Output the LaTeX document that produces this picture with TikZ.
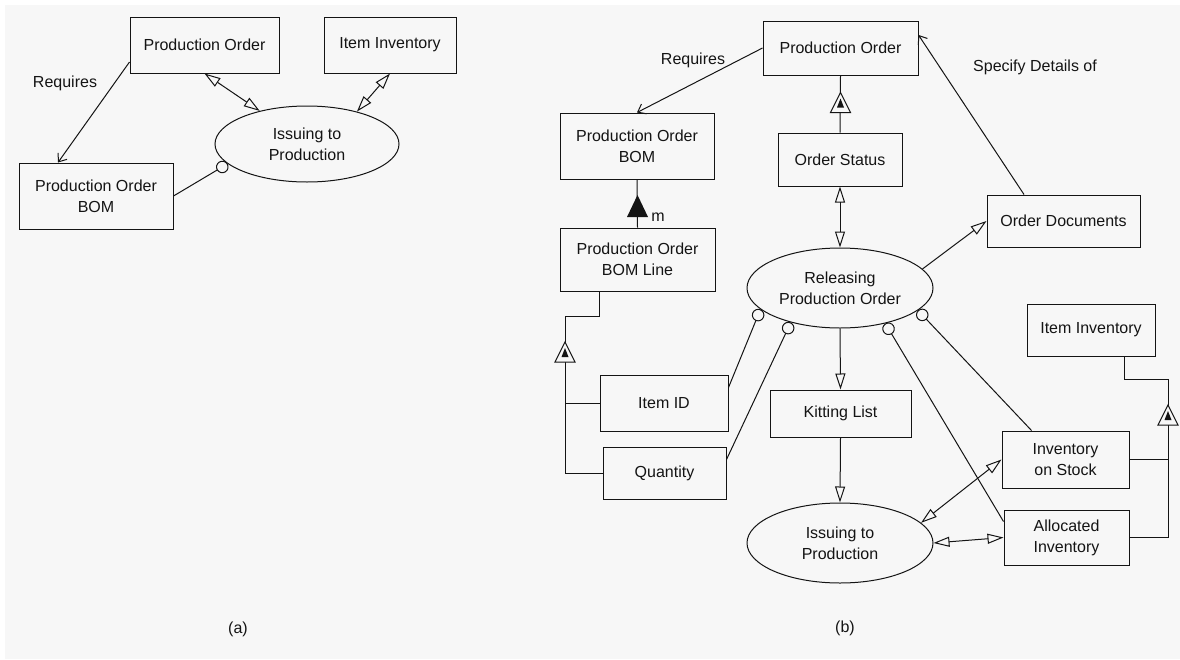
\documentclass[tikz,border=0pt]{standalone}
\usepackage{fontspec}
\setmainfont{Liberation Sans}
\usetikzlibrary{arrows.meta,shapes.geometric}
\definecolor{bg}{RGB}{247,247,247}
\definecolor{ink}{RGB}{20,20,20}
\tikzset{
  gen/.pic={
    \draw[fill=bg, line width=1pt] (0,-10) -- (10,10) -- (-10,10) -- cycle;
    \fill (0,-4) -- (3.5,5) -- (-3.5,5) -- cycle;
  },
  whole/.pic={
    \fill (0,-11) -- (10.5,11) -- (-10.5,11) -- cycle;
  }
}
\begin{document}
\begin{tikzpicture}[x=1pt, y=-1pt, line width=1pt, draw=ink, ink,
  every node/.style={font=\fontsize{16}{21}\selectfont, text=ink},
  box/.style={draw, fill=bg, inner sep=0pt, align=center},
  proc/.style={draw, fill=bg, ellipse, inner sep=0pt, align=center},
  twoway/.style={{Triangle[open,length=16pt,width=10pt]}-{Triangle[open,length=16pt,width=10pt]}},
  onearrow/.style={-{Triangle[open,length=16pt,width=10pt]}},
  assoc/.style={-{Straight Barb[length=7pt,width=11pt]}},
  attrlink/.style={-{Circle[open,length=12.5pt,width=12.5pt]}}]
\useasboundingbox (0,0) rectangle (1180,659);
\fill[white] (0,0) rectangle (1180,659);
\fill[bg] (5,5) rectangle (1180,659);

% ---------- (a) ----------
\node[box, minimum width=149pt, minimum height=56pt] (po1) at (204.5,45) {Production Order};
\node[box, minimum width=132pt, minimum height=56pt] (ii1) at (390,45) {Item Inventory};
\node[box, minimum width=154pt, minimum height=66pt] (bom1) at (96,196) {Production Order\\BOM};
\node[proc, minimum width=184pt, minimum height=76pt] (ell1) at (307,144) {Issuing to\\Production};

\draw[assoc] ([yshift=-17pt]po1.west) -- ([xshift=-38pt]bom1.north);
\node at (65,83) {Requires};
\draw[twoway] (po1.south) -- (ell1.145.8);
\draw[twoway] (ii1.south) -- (ell1.33.4);
\draw[attrlink] (bom1.east) -- (ell1.194.7);
\node at (238,629) {(a)};

% ---------- (b) ----------
\node[box, minimum width=155pt, minimum height=54pt] (po2) at (840.5,48) {Production Order};
\node[box, minimum width=154pt, minimum height=66pt] (bom2) at (637,146) {Production Order\\BOM};
\node[box, minimum width=124pt, minimum height=53pt] (ostat) at (840,159.5) {Order Status};
\node[box, minimum width=155pt, minimum height=63pt] (bomline) at (637.5,259.5) {Production Order\\BOM Line};
\node[box, minimum width=153pt, minimum height=52pt] (odoc) at (1063.5,221) {Order Documents};
\node[proc, minimum width=186pt, minimum height=80pt] (rel) at (840,288) {Releasing\\Production Order};
\node[box, minimum width=128pt, minimum height=52pt] (iinv2) at (1091,330) {Item Inventory};
\node[box, minimum width=128pt, minimum height=56pt] (itemid) at (664,403) {Item ID};
\node[box, minimum width=141pt, minimum height=47pt] (kit) at (840.5,413.5) {Kitting List};
\node[box, minimum width=123pt, minimum height=52pt] (quantity) at (664.5,473) {Quantity};
\node[box, minimum width=127pt, minimum height=57pt] (invstock) at (1065.5,459.5) {Inventory\\on Stock};
\node[box, minimum width=125pt, minimum height=55pt] (alloc) at (1066.5,537.5) {Allocated\\Inventory};
\node[proc, minimum width=186pt, minimum height=80pt] (iss2) at (840,543) {Issuing to\\Production};

% associations
\draw[assoc] (po2.west) -- (bom2.north);
\node at (693,60) {Requires};
\draw[assoc] ([xshift=-39.5pt]odoc.north) -- ([yshift=13pt]po2.east);
\node at (1035,67) {Specify Details of};

% order status generalisation
\draw (po2.south) -- (ostat.north);
\pic at (840.5,102.5) {gen};
\draw[twoway] (ostat.south) -- (rel.north);

% BOM aggregation
\draw (bom2.south) -- (bomline.north);
\pic at (637.5,206) {whole};
\node at (658,217) {m};

% process flows
\draw[onearrow] (rel.13) -- (odoc.west);
\draw[onearrow] (rel.south) -- (kit.north);
\draw[onearrow] (kit.south) -- (iss2.north);
\draw[twoway] (invstock.west) -- (iss2.14.4);
\draw[twoway] (iss2.east) -- (alloc.west);

% attribute links
\draw[attrlink] ([yshift=-13pt]itemid.north east) -- (rel.195.2);
\draw[attrlink] ([yshift=-13pt]quantity.north east) -- (rel.215.5);
\draw[attrlink] ([yshift=-12pt]alloc.north west) -- (rel.322.9);
\draw[attrlink] ([xshift=30pt]invstock.north west) -- (rel.344.7);

% BOM line subtypes
\coordinate (lj) at (565,316);
\draw (quantity.west) -| (lj) -| ([xshift=-38.5pt]bomline.south);
\draw (itemid.west) -- (itemid.west -| lj);
\pic at (565,352) {gen};

% inventory subtypes
\coordinate (rj) at (1168,379);
\draw (alloc.east) -| (rj) -| ([xshift=33pt]iinv2.south);
\draw (invstock.east) -- (invstock.east -| rj);
\pic at (1168,415) {gen};

\node at (845,628) {(b)};
\end{tikzpicture}
\end{document}
